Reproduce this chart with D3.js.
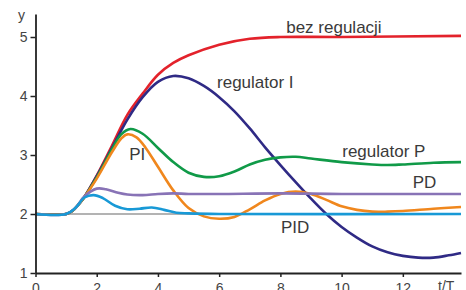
<!DOCTYPE html>
<html>
<head>
<meta charset="utf-8">
<script src="https://cdn.jsdelivr.net/npm/d3@7"></script>
<style>
  body { margin: 0; background: #fff; }
  svg { display: block; }
</style>
</head>
<body>
<div id="chart"></div>
<script>

// step responses (t/T, y)

var t_noreg = [0, 1.0, 1.2, 1.5, 1.6, 2.0, 2.5, 3.0, 3.5, 4.0, 4.5, 5.0, 6.0, 7.0, 8.0, 10.0, 13.9];
var y_noreg = [2, 2.0, 2.05, 2.22, 2.29, 2.65, 3.16, 3.68, 4.04, 4.36, 4.56, 4.69, 4.87, 4.97, 5.0, 5.0, 5.02];

var t_regI = [0, 1.0, 1.2, 1.5, 1.6, 2.0, 2.5, 3.0, 3.5, 4.0, 4.5, 5.0, 5.5, 6.0, 6.5, 7.0, 7.5, 8.0, 8.5, 9.0, 9.5, 10.0, 10.5, 11.0, 11.5, 12.0, 12.5, 13.0, 13.5, 13.9];
var y_regI = [2, 2.0, 2.05, 2.22, 2.29, 2.64, 3.12, 3.6, 3.98, 4.24, 4.34, 4.3, 4.17, 3.98, 3.74, 3.45, 3.13, 2.83, 2.54, 2.26, 2.0, 1.78, 1.6, 1.45, 1.35, 1.29, 1.26, 1.26, 1.3, 1.34];

var t_regP = [0, 1.0, 1.2, 1.5, 1.6, 2.0, 2.5, 2.8, 3.1, 3.5, 4.0, 4.5, 5.0, 5.5, 6.0, 6.5, 7.0, 7.5, 8.0, 8.5, 9.0, 10.0, 11.0, 11.5, 12.0, 13.0, 13.9];
var y_regP = [2, 2.0, 2.05, 2.22, 2.29, 2.62, 3.1, 3.35, 3.44, 3.36, 3.12, 2.88, 2.7, 2.63, 2.64, 2.72, 2.84, 2.92, 2.96, 2.97, 2.94, 2.88, 2.84, 2.83, 2.84, 2.87, 2.88];

var t_PI = [0, 1.0, 1.2, 1.5, 1.6, 2.0, 2.5, 2.8, 3.0, 3.3, 3.6, 4.0, 4.5, 5.0, 5.5, 6.0, 6.5, 7.0, 7.5, 8.0, 8.5, 9.0, 9.5, 10.0, 10.5, 11.0, 11.5, 12.0, 13.0, 13.9];
var y_PI = [2, 2.0, 2.05, 2.22, 2.29, 2.6, 3.05, 3.28, 3.35, 3.3, 3.12, 2.8, 2.4, 2.1, 1.96, 1.92, 1.95, 2.08, 2.23, 2.34, 2.38, 2.34, 2.24, 2.13, 2.07, 2.04, 2.04, 2.05, 2.09, 2.12];

var t_PD = [0, 1.0, 1.3, 1.6, 2.0, 2.3, 2.7, 3.0, 3.5, 4.0, 4.5, 5.0, 6.0, 8.0, 10.0, 13.9];
var y_PD = [2, 2.0, 2.1, 2.3, 2.43, 2.42, 2.36, 2.33, 2.32, 2.34, 2.35, 2.34, 2.34, 2.35, 2.34, 2.34];

var t_PID = [0, 1.0, 1.3, 1.6, 1.9, 2.2, 2.6, 3.0, 3.4, 3.8, 4.2, 4.6, 5.0, 6.0, 13.9];
var y_PID = [2, 2.0, 2.1, 2.28, 2.32, 2.27, 2.14, 2.08, 2.09, 2.11, 2.07, 2.02, 2.01, 2.0, 2.0];

var x_ticks = [0, 2, 4, 6, 8, 10, 12];
var y_ticks = [1, 2, 3, 4, 5];

// curve labels, in data units
var label_text = ["bez regulacji", "regulator I", "regulator P", "PI", "PD", "PID"];
var label_t = [8.19, 5.93, 10.02, 3.06, 12.32, 8.02];
var label_y = [5.07, 4.14, 2.97, 2.92, 2.44, 1.68];

// set up the svg

var w = 466;
var h = 290;

var svg = d3.select("#chart")
    .append("svg")
    .attr("width", w)
    .attr("height", h);

var x = d3.scaleLinear().domain([0, 13.9]).range([35.5, 461]);
var y = d3.scaleLinear().domain([1, 5.39]).range([273, 14]);

var zip = function(ts, ys) {
    return ts.map(function(t, i) { return [t, ys[i]]; });
};

var line = d3.line()
    .x(function(d) { return x(d[0]); })
    .y(function(d) { return y(d[1]); })
    .curve(d3.curveCatmullRom.alpha(0.5));

// reference level y = 2

svg.append("line")
    .attr("x1", x(0))
    .attr("x2", x(13.9))
    .attr("y1", y(2))
    .attr("y2", y(2))
    .attr("stroke", "#9a9a9a")
    .attr("stroke-width", 1.6);

var series = [
    { pts: zip(t_noreg, y_noreg), color: "#e3222b" },
    { pts: zip(t_regI, y_regI), color: "#2f2a85" },
    { pts: zip(t_regP, y_regP), color: "#109a48" },
    { pts: zip(t_PI, y_PI), color: "#f0871d" },
    { pts: zip(t_PD, y_PD), color: "#8873b6" },
    { pts: zip(t_PID, y_PID), color: "#1899d6" }
];

svg.selectAll(".curve")
    .data(series)
    .enter()
    .append("path")
    .attr("class", "curve")
    .attr("d", function(d) { return line(d.pts); })
    .attr("fill", "none")
    .attr("stroke", function(d) { return d.color; })
    .attr("stroke-width", 2.6)
    .attr("stroke-linejoin", "round");

// axes

var xAxis = d3.axisBottom(x)
    .tickValues(x_ticks)
    .tickFormat(d3.format("d"))
    .tickSizeInner(4)
    .tickSizeOuter(0)
    .tickPadding(6);

var yAxis = d3.axisLeft(y)
    .tickValues(y_ticks)
    .tickFormat(d3.format("d"))
    .tickSizeInner(5)
    .tickSizeOuter(0)
    .tickPadding(3);

var gx = svg.append("g")
    .attr("transform", "translate(0," + y(1) + ")")
    .call(xAxis);

var gy = svg.append("g")
    .attr("transform", "translate(" + x(0) + ",0)")
    .call(yAxis);

[gx, gy].forEach(function(g) {
    g.select(".domain").attr("stroke", "#222").attr("stroke-width", 1.8);
    g.selectAll(".tick line").attr("stroke", "#222").attr("stroke-width", 1.5);
    g.selectAll(".tick text")
        .attr("fill", "#444")
        .attr("font-family", "Liberation Sans, Arial, sans-serif")
        .attr("font-size", "14px");
});

svg.append("text")
    .attr("x", 18)
    .attr("y", 20)
    .text("y")
    .attr("fill", "#444")
    .attr("font-family", "Liberation Sans, Arial, sans-serif")
    .attr("font-size", "14px");

svg.append("text")
    .attr("x", 438)
    .attr("y", 291)
    .text("t/T")
    .attr("fill", "#444")
    .attr("font-family", "Liberation Sans, Arial, sans-serif")
    .attr("font-size", "14px");

// curve labels

svg.selectAll(".lbl")
    .data(label_text)
    .enter()
    .append("text")
    .attr("class", "lbl")
    .attr("x", function(d, i) { return x(label_t[i]); })
    .attr("y", function(d, i) { return y(label_y[i]); })
    .text(function(d) { return d; })
    .attr("fill", "#3a3a3a")
    .attr("font-family", "Liberation Sans, Arial, sans-serif")
    .attr("font-size", "17px");

</script>
</body>
</html>
